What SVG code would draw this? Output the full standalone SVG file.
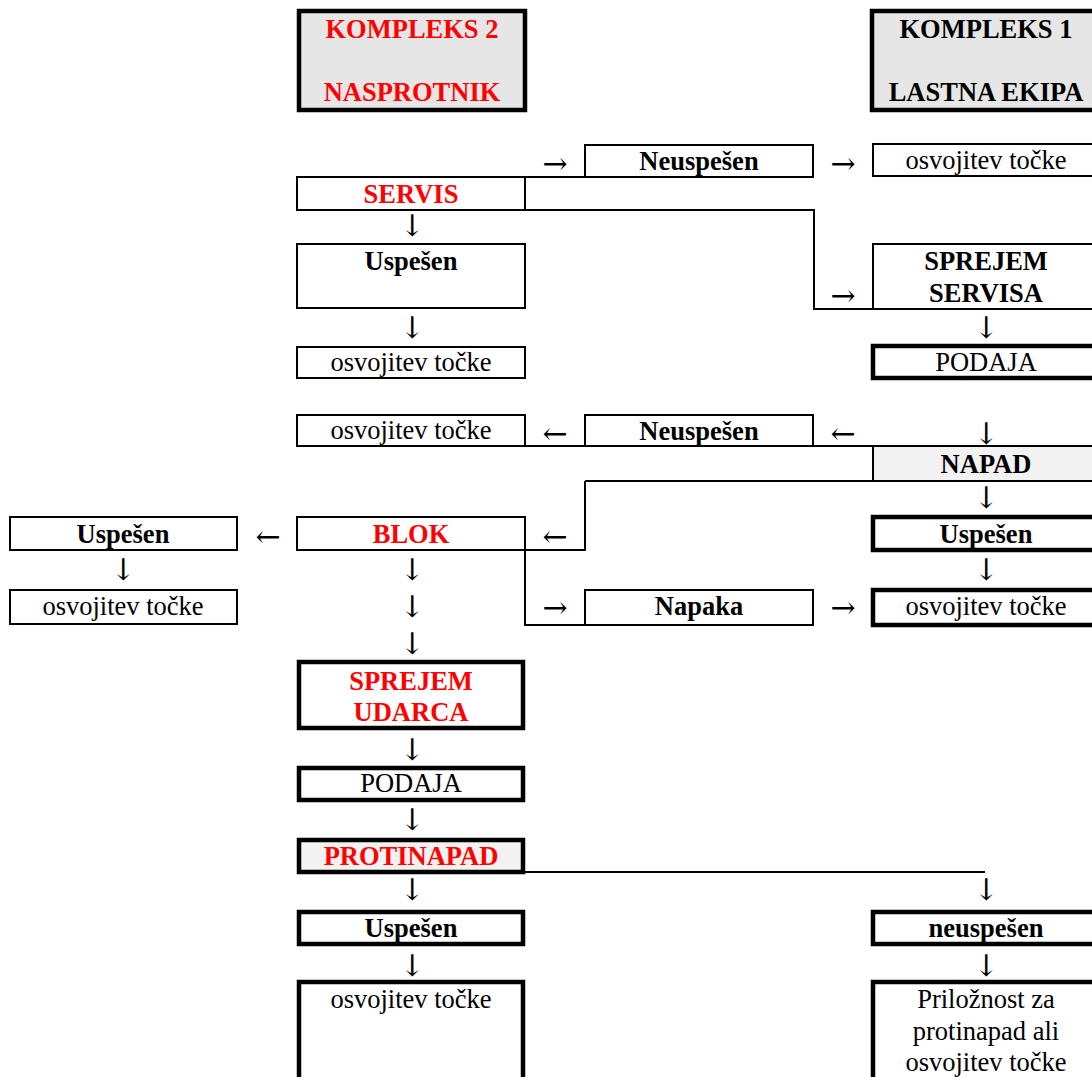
<svg xmlns="http://www.w3.org/2000/svg" width="1092" height="1077" viewBox="0 0 1092 1077">
<style>
text{font-family:"Liberation Serif","Times New Roman",serif;font-size:26.5px;text-anchor:middle;fill:#000}
.b{font-weight:bold}
.r{fill:#ff0000}
.thin{fill:#fff;stroke:#000;stroke-width:2}
.thick{fill:#fff;stroke:#000;stroke-width:4.5}
.g1{fill:#e6e6e6;stroke:#000;stroke-width:4.5}
.g2{fill:#f2f2f2;stroke:#000;stroke-width:2}
.g2t{fill:#f2f2f2;stroke:#000;stroke-width:4.5}
.ln{fill:none;stroke:#000;stroke-width:2}
.ar text{font-family:"DejaVu Serif","DejaVu Sans",serif;font-size:30px}
</style>
<rect width="1092" height="1077" fill="#fff"/>
<g id="kompleks2"><rect class="g1" x="299" y="11" width="226" height="99"/><text class="b r" x="412" y="38">KOMPLEKS 2</text><text class="b r" x="412" y="101">NASPROTNIK</text></g>
<g id="kompleks1"><rect class="g1" x="872" y="11" width="226" height="99"/><text class="b" x="986" y="38">KOMPLEKS 1</text><text class="b" x="986" y="101">LASTNA EKIPA</text></g>

<g id="connectors">
<path class="ln" d="M525 177H585M525 177V210M525 210H814V309H873"/>
<path class="ln" d="M297 446H1100M585 481H873M585 481V550H525M525 550V625H585"/>
<path class="ln" d="M525 872H985"/>
<g class="ar">
<text x="555" y="174">→</text><text x="843" y="174">→</text>
<text x="412" y="236">↓</text>
<text x="843" y="306">→</text>
<text x="412" y="338">↓</text><text x="986" y="338">↓</text>
<text x="555" y="444">←</text><text x="843" y="444">←</text><text x="986" y="444">↓</text>
<text x="986" y="508">↓</text>
<text x="268" y="547">←</text><text x="555" y="547">←</text>
<text x="123" y="580">↓</text><text x="412" y="580">↓</text><text x="986" y="580">↓</text>
<text x="412" y="617">↓</text>
<text x="555" y="618">→</text><text x="843" y="618">→</text>
<text x="412" y="654">↓</text>
<text x="412" y="760">↓</text>
<text x="412" y="830">↓</text>
<text x="412" y="900">↓</text><text x="986" y="900">↓</text>
<text x="412" y="976">↓</text><text x="986" y="976">↓</text>
</g>
</g>

<g id="neuspesen1"><rect class="thin" x="585" y="145" width="228" height="32"/><text class="b" x="699" y="170">Neuspešen</text></g>
<g id="osvojitev1"><rect class="thin" x="873" y="144" width="227" height="32"/><text x="986" y="169">osvojitev točke</text></g>
<g id="servis"><rect class="thin" x="297" y="177" width="228" height="33"/><text class="b r" x="411" y="203">SERVIS</text></g>
<g id="uspesen1"><rect class="thin" x="297" y="244" width="228" height="64"/><text class="b" x="411" y="270">Uspešen</text></g>
<g id="sprejemservisa"><rect class="thin" x="873" y="244" width="227" height="65"/><text class="b" x="986" y="270">SPREJEM</text><text class="b" x="986" y="302">SERVISA</text></g>
<g id="osvojitev2"><rect class="thin" x="297" y="347" width="228" height="31"/><text x="411" y="371">osvojitev točke</text></g>
<g id="podaja1"><rect class="thick" x="873" y="346" width="227" height="32"/><text x="986" y="371">PODAJA</text></g>
<g id="osvojitev3"><rect class="thin" x="297" y="415" width="228" height="31"/><text x="411" y="439">osvojitev točke</text></g>
<g id="neuspesen2"><rect class="thin" x="585" y="415" width="228" height="31"/><text class="b" x="699" y="440">Neuspešen</text></g>
<g id="napad"><rect class="g2" x="873" y="446" width="227" height="35"/><text class="b" x="986" y="473">NAPAD</text></g>
<g id="uspesen2"><rect class="thin" x="10" y="517" width="227" height="33"/><text class="b" x="123" y="543">Uspešen</text></g>
<g id="blok"><rect class="thin" x="297" y="517" width="228" height="33"/><text class="b r" x="411" y="543">BLOK</text></g>
<g id="uspesen3"><rect class="thick" x="873" y="517" width="227" height="33"/><text class="b" x="986" y="543">Uspešen</text></g>
<g id="osvojitev4"><rect class="thin" x="10" y="590" width="227" height="34"/><text x="123" y="615">osvojitev točke</text></g>
<g id="napaka"><rect class="thin" x="585" y="590" width="228" height="35"/><text class="b" x="699" y="615">Napaka</text></g>
<g id="osvojitev5"><rect class="thick" x="873" y="590" width="227" height="35"/><text x="986" y="615">osvojitev točke</text></g>
<g id="sprejemudarca"><rect class="thick" x="299" y="662" width="224" height="66"/><text class="b r" x="411" y="690">SPREJEM</text><text class="b r" x="411" y="721">UDARCA</text></g>
<g id="podaja2"><rect class="thick" x="299" y="768" width="224" height="32"/><text x="411" y="792">PODAJA</text></g>
<g id="protinapad"><rect class="g2t" x="299" y="840" width="224" height="32"/><text class="b r" x="411" y="865">PROTINAPAD</text></g>
<g id="uspesen4"><rect class="thick" x="299" y="912" width="224" height="32"/><text class="b" x="411" y="937">Uspešen</text></g>
<g id="neuspesen3"><rect class="thick" x="873" y="912" width="227" height="32"/><text class="b" x="986" y="937">neuspešen</text></g>
<g id="osvojitev6"><rect class="thick" x="299" y="982" width="224" height="100"/><text x="411" y="1008">osvojitev točke</text></g>
<g id="priloznost"><rect class="thick" x="873" y="982" width="227" height="100"/><text x="986" y="1008">Priložnost za</text><text x="986" y="1040">protinapad ali</text><text x="986" y="1071">osvojitev točke</text></g>
</svg>
